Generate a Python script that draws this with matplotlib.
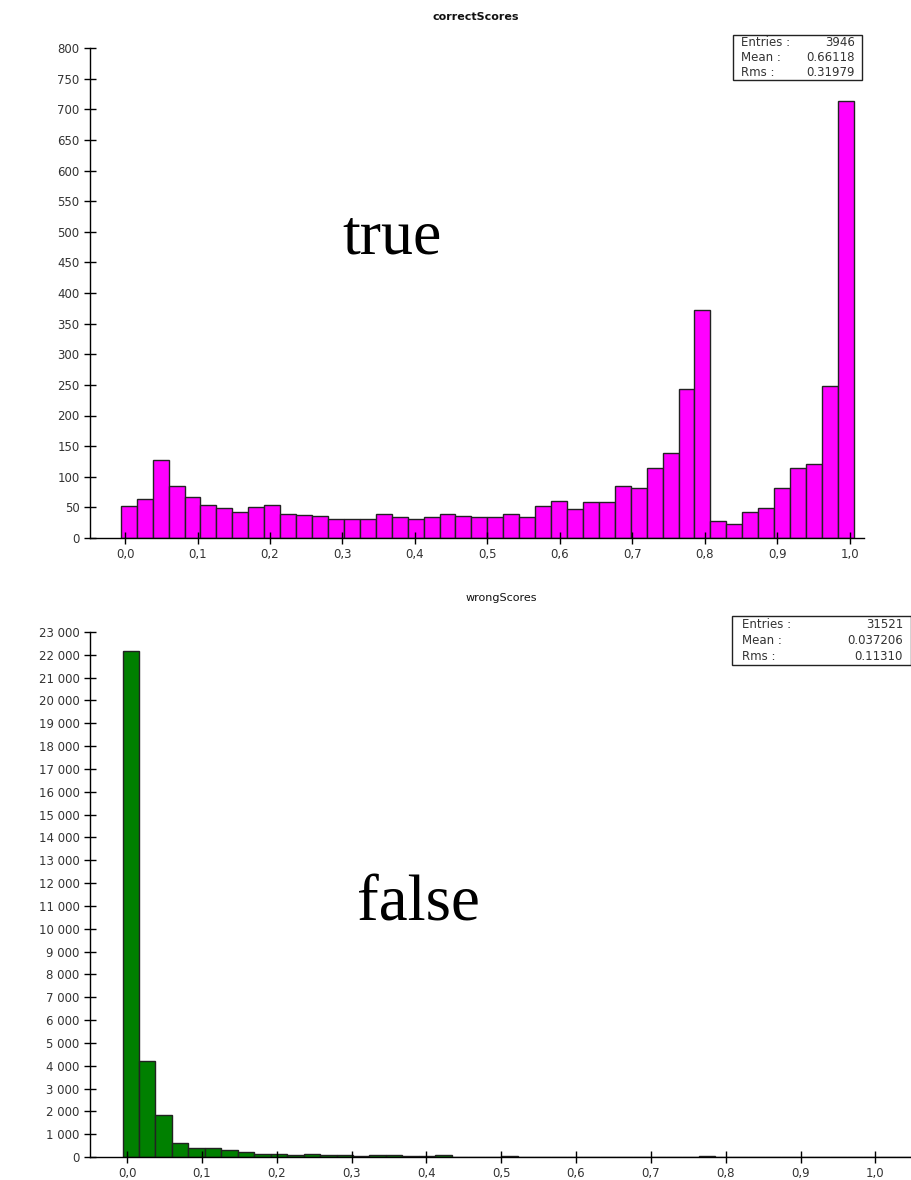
import matplotlib
matplotlib.use("Agg")
import matplotlib.pyplot as plt
import matplotlib.ticker as mticker
from matplotlib.patches import Rectangle
import numpy as np

# bin layout shared by both histograms
BIN_START = -0.006
BIN_WIDTH = 0.022

correct_counts = [
    53, 64, 128, 85, 67, 54, 49, 43, 51, 54,
    40, 38, 36, 31, 31, 31, 40, 35, 31, 35,
    40, 36, 35, 35, 40, 35, 53, 61, 48, 59,
    58, 85, 82, 114, 138, 243, 373, 27, 23, 43,
    49, 82, 115, 121, 248, 713,
]
wrong_counts = [
    22150, 4200, 1850, 600, 394, 394, 307, 219, 131, 131,
    73, 131, 88, 88, 29, 73, 73, 29, 29, 73,
    20, 15, 15, 45, 15, 15, 15, 15, 15, 15,
    15, 15, 15, 15, 15, 50, 15, 15, 15, 15,
    15, 15, 15, 15, 15, 10, 0, 0, 0, 0,
]

correct_stats = [("Entries :", "3946"), ("Mean :", "0.66118"), ("Rms :", "0.31979")]
wrong_stats = [("Entries :", "31521"), ("Mean :", "0.037206"), ("Rms :", "0.11310")]

W, H = 912, 1180
TICK_COLOR = "#333333"


def px_axes(fig, x0, y_top, x1, y_bottom):
    return fig.add_axes([x0 / W, 1 - y_bottom / H, (x1 - x0) / W, (y_bottom - y_top) / H])


def style_axes(ax, xlim, ylim, ystep, fmt_y):
    ax.set_xlim(*xlim)
    ax.set_ylim(*ylim)
    for side in ("top", "right"):
        ax.spines[side].set_visible(False)
    ax.spines["left"].set_bounds(ylim[0], ylim[1])
    for side in ("left", "bottom"):
        ax.spines[side].set_linewidth(1.0)
    ax.set_xticks(np.round(np.arange(0, 1.01, 0.1), 1))
    ax.xaxis.set_major_formatter(mticker.FuncFormatter(lambda v, p: f"{v:.1f}".replace(".", ",")))
    ax.set_yticks(np.arange(ylim[0], ylim[1] + 1, ystep))
    ax.yaxis.set_major_formatter(mticker.FuncFormatter(fmt_y))
    ax.tick_params(direction="inout", length=9, width=1.0, labelsize=8.5,
                   labelcolor=TICK_COLOR, pad=3)


def stats_box(fig, x0, y0, x1, y1, rows, lx, rx):
    fig.add_artist(Rectangle((x0 / W, 1 - y1 / H), (x1 - x0) / W, (y1 - y0) / H,
                             transform=fig.transFigure, fill=False, lw=1.0, ec="#222222"))
    step = (y1 - y0) / len(rows)
    for i, (lab, val) in enumerate(rows):
        yc = y0 + step * (i + 0.5)
        fig.text(lx / W, 1 - yc / H, lab, ha="left", va="center", fontsize=8.5, color=TICK_COLOR)
        fig.text(rx / W, 1 - yc / H, val, ha="right", va="center", fontsize=8.5, color=TICK_COLOR)


fig = plt.figure(figsize=(W / 100, H / 100), dpi=100)

# top: correct scores
ax1 = px_axes(fig, 90, 48, 864, 538)
edges1 = BIN_START + BIN_WIDTH * np.arange(len(correct_counts))
ax1.bar(edges1, correct_counts, width=BIN_WIDTH, align="edge", color="#FF00FF",
        edgecolor="#222222", linewidth=1.0)
style_axes(ax1, (-0.0485, 1.02), (0, 800), 50, lambda v, p: f"{int(v)}")
fig.text(476 / W, 1 - 17 / H, "correctScores", ha="center", va="center",
         fontsize=8, fontweight="bold", color="#111111")
stats_box(fig, 733, 35, 862, 80, correct_stats, 741, 855)
fig.text(392 / W, 1 - 238 / H, "true", ha="center", va="center",
         fontsize=46, family="Liberation Serif")

# bottom: wrong scores
ax2 = px_axes(fig, 90, 632, 912, 1157)
edges2 = BIN_START + BIN_WIDTH * np.arange(len(wrong_counts))
ax2.bar(edges2, wrong_counts, width=BIN_WIDTH, align="edge", color="#008000",
        edgecolor="#222222", linewidth=1.0)
style_axes(ax2, (-0.0495, 1.049), (0, 23000), 1000,
           lambda v, p: f"{int(v):,}".replace(",", " "))
fig.text(501 / W, 1 - 598 / H, "wrongScores", ha="center", va="center",
         fontsize=8, color="#111111")
stats_box(fig, 732, 616, 911, 665, wrong_stats, 742, 903)
fig.text(418 / W, 1 - 905 / H, "false", ha="center", va="center",
         fontsize=47, family="Liberation Serif")

fig.savefig("out.png", dpi=100)
